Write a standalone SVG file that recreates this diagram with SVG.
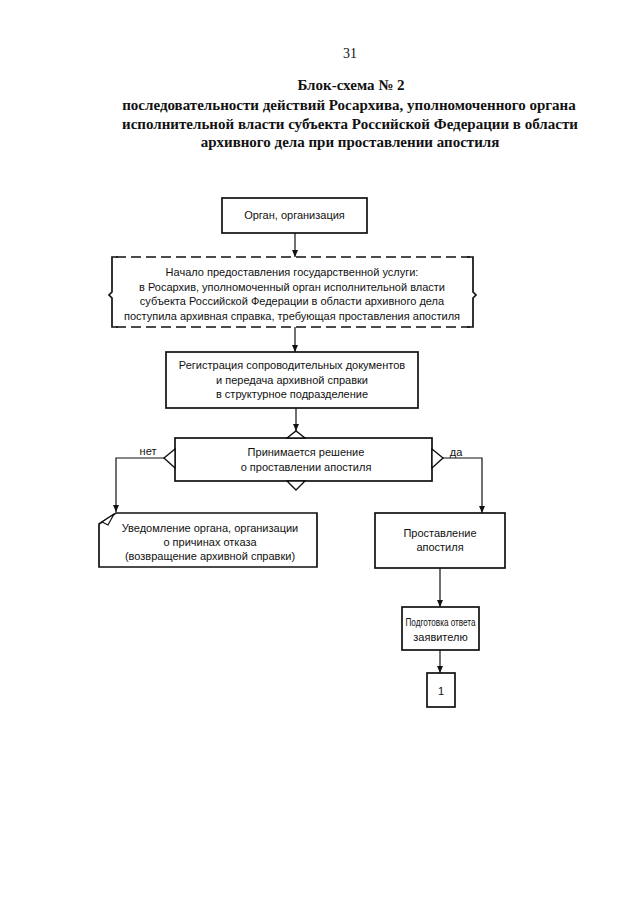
<svg xmlns="http://www.w3.org/2000/svg" width="640" height="905" viewBox="0 0 640 905">
<defs>
<marker id="ah" markerWidth="8" markerHeight="8" refX="7" refY="4" orient="auto" markerUnits="userSpaceOnUse">
<path d="M0,1 L7,4 L0,7 Z" fill="#111"/>
</marker>
<style>
.t{font-family:"Liberation Serif","Times New Roman",serif;font-weight:bold;font-size:15px;fill:#111;text-anchor:middle}
.pg{font-family:"Liberation Serif","Times New Roman",serif;font-size:14px;fill:#111;text-anchor:middle}
.b{font-family:"Liberation Sans",Arial,sans-serif;font-size:11px;fill:#111;text-anchor:middle}
.box{fill:#fff;stroke:#111;stroke-width:1.7}
.dash{fill:none;stroke:#111;stroke-width:1.7;stroke-dasharray:10 5}
.line{fill:none;stroke:#111;stroke-width:1.2}
.con{fill:none;stroke:#111;stroke-width:1.2;marker-end:url(#ah)}
</style>
</defs>
<rect width="640" height="905" fill="#fff"/>
<g id="header">
<text class="pg" x="350" y="58">31</text>
<text class="t" x="351" y="90">Блок-схема № 2</text>
<text class="t" x="349" y="110">последовательности действий Росархива, уполномоченного органа</text>
<text class="t" x="350" y="129">исполнительной власти субъекта Российской Федерации в области</text>
<text class="t" x="350" y="147">архивного дела при проставлении апостиля</text>
</g>
<g id="connectors">
<line class="con" x1="295" y1="233" x2="295" y2="257"/>
<line class="con" x1="295" y1="327" x2="295" y2="352"/>
<line class="con" x1="296" y1="408" x2="296" y2="431"/>
<polyline class="con" points="164,458 116,458 116,512"/>
<polyline class="con" points="443,458 482,458 482,513"/>
<line class="con" x1="440" y1="568" x2="440" y2="607"/>
<line class="con" x1="440" y1="650" x2="440" y2="673"/>
<text class="b" x="148" y="455">нет</text>
<text class="b" x="456" y="456">да</text>
</g>
<g id="n1">
<rect class="box" x="222" y="198" width="145" height="35"/>
<text class="b" x="294.5" y="219">Орган, организация</text>
</g>
<g id="n2">
<rect x="112" y="257" width="361" height="70" fill="#fff"/>
<line class="dash" x1="116" y1="257" x2="470" y2="257"/>
<line class="dash" x1="116" y1="327" x2="470" y2="327"/>
<path class="line" style="stroke-width:1.7" d="M118,257 L112,257 L112,292 L109,295 L112,298 L112,327 L118,327"/>
<path class="line" style="stroke-width:1.7" d="M467,257 L473,257 L473,292 L476,295 L473,298 L473,327 L467,327"/>
<text class="b" x="292" y="276">Начало предоставления государственной услуги:</text>
<text class="b" x="292" y="290.5">в Росархив, уполномоченный орган исполнительной власти</text>
<text class="b" x="292" y="305">субъекта Российской Федерации в области архивного дела</text>
<text class="b" x="292" y="319.5">поступила архивная справка, требующая проставления апостиля</text>
</g>
<g id="n3">
<rect class="box" x="166" y="352" width="252" height="56"/>
<text class="b" x="292" y="369">Регистрация сопроводительных документов</text>
<text class="b" x="292" y="383.5">и передача архивной справки</text>
<text class="b" x="292" y="398">в структурное подразделение</text>
</g>
<g id="n4">
<rect class="box" x="175" y="438" width="257" height="43"/>
<polygon class="box" style="stroke-width:1.4" points="287,438 296,431 305,438"/>
<polygon class="box" style="stroke-width:1.4" points="287,481 296,490 305,481"/>
<polygon class="box" style="stroke-width:1.4" points="175,449 164,458 175,468"/>
<polygon class="box" style="stroke-width:1.4" points="432,449 443,458 432,468"/>
<text class="b" x="306" y="456">Принимается решение</text>
<text class="b" x="306" y="471">о проставлении апостиля</text>
</g>
<g id="n5">
<path class="box" d="M116,513 L317,513 L317,567 L99,567 L99,524 Z"/>
<polygon class="box" style="stroke-width:1.2" points="102,522 114,514 108,525"/>
<text class="b" x="210" y="532">Уведомление органа, организации</text>
<text class="b" x="210" y="546">о причинах отказа</text>
<text class="b" x="210" y="560">(возвращение архивной справки)</text>
</g>
<g id="n6">
<rect class="box" x="375" y="513" width="130" height="55"/>
<text class="b" x="440" y="537">Проставление</text>
<text class="b" x="440" y="551">апостиля</text>
</g>
<g id="n7">
<rect class="box" x="402" y="607" width="77" height="43"/>
<text class="b" x="440.5" y="626" textLength="70" lengthAdjust="spacingAndGlyphs">Подготовка ответа</text>
<text class="b" x="440.5" y="641">заявителю</text>
</g>
<g id="n8">
<rect class="box" x="427" y="673" width="28" height="34"/>
<text class="b" x="441" y="695">1</text>
</g>
</svg>
